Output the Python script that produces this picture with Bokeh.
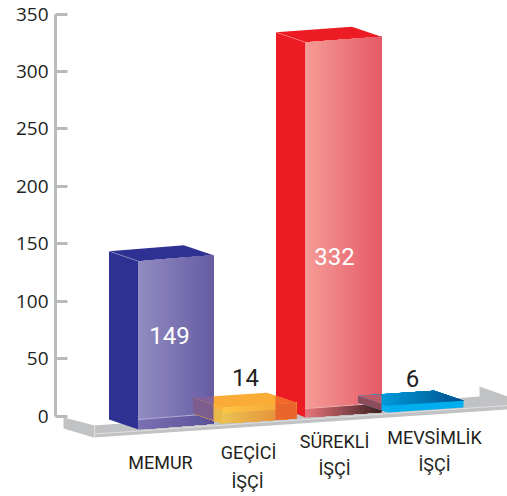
from bokeh.plotting import figure
from bokeh.models import Range1d, LinearAxis, FixedTicker
from bokeh.core.properties import value as V
from bokeh.embed import file_html
from bokeh.resources import INLINE

categories = [["MEMUR"], ["GEÇİCİ", "İŞÇİ"], ["SÜREKLİ", "İŞÇİ"], ["MEVSİMLİK", "İŞÇİ"]]
values = [149, 14, 332, 6]
y_ticks = [0, 50, 100, 150, 200, 250, 300, 350]

W, H = 507, 496
AX_X = 55
Y0 = 415.5
PX_PER_UNIT = 402 / 350
BAR_PX = 1.13
DX, DY = -29.5, -10


def U(py):
    return (Y0 - py) / PX_PER_UNIT


p = figure(width=W, height=H, output_backend="svg", toolbar_location=None,
           x_range=Range1d(AX_X, W),
           y_range=Range1d(U(H), U(0)),
           x_axis_location=None, y_axis_location=None,
           min_border_left=AX_X, min_border_right=0, min_border_top=0, min_border_bottom=0)
p.outline_line_color = None
p.xgrid.visible = False
p.ygrid.visible = False
p.background_fill_color = "white"

ax = LinearAxis(ticker=FixedTicker(ticks=y_ticks), bounds=(0, 350))
ax.axis_line_color = "#b9babc"
ax.axis_line_width = 3
ax.major_tick_line_color = "#b9babc"
ax.major_tick_line_width = 3
ax.major_tick_in = 12
ax.major_tick_out = 0
ax.minor_tick_line_color = None
ax.major_label_standoff = 7
ax.major_label_text_font = "Open Sans"
ax.major_label_text_font_size = "19px"
ax.major_label_text_color = "#231f20"
p.add_layout(ax, "left")


def poly(pts, color, alpha=1.0):
    p.patch([a for a, _ in pts], [U(b) for _, b in pts], fill_color=color, fill_alpha=alpha,
            line_color=None)


def edge(a, b, color="#ffffff", alpha=0.3):
    p.line([a[0], b[0]], [U(a[1]), U(b[1])], line_color=color, line_alpha=alpha, line_width=1)


def clip(pts, x_edge, keep_right):
    out = []
    n = len(pts)
    inside = (lambda q: q[0] >= x_edge) if keep_right else (lambda q: q[0] <= x_edge)
    for i in range(n):
        a, b = pts[i], pts[(i + 1) % n]
        if inside(a):
            out.append(a)
        if inside(a) != inside(b):
            t = (x_edge - a[0]) / (b[0] - a[0])
            out.append((x_edge, a[1] + t * (b[1] - a[1])))
    return out


def mix(c1, c2, t):
    a = [int(c1[i:i + 2], 16) for i in (1, 3, 5)]
    b = [int(c2[i:i + 2], 16) for i in (1, 3, 5)]
    return "#%02x%02x%02x" % tuple(round(a[i] + (b[i] - a[i]) * t) for i in range(3))


def grad(pts, c0, c1, n=36):
    # horizontal gradient painted back to front, each strip running to the shape's right end
    xs = [a for a, _ in pts]
    lo, hi = min(xs), max(xs)
    for i in range(n):
        cut = lo + (hi - lo) * i / n
        part = clip(pts, cut, True)
        if len(part) >= 3:
            poly(part, mix(c0, c1, (i + 0.5) / n))


def quad(x0, x1, a0, a1, b0, b1):
    return [(x0, a0), (x1, a1), (x1, b1), (x0, b0)]


# floor and its folded ends
FLOOR = "#c1c2c4"
poly([(63, 417), (94, 425), (479, 396), (479, 386), (507, 396), (507, 409), (93, 437), (63, 428)], FLOOR)
edge((94, 425), (94, 437), "#e2e2e3", 0.9)
edge((94, 433.5), (507, 405), "#e2e2e3", 0.9)

geo = {"x": [138, 222, 305, 387], "w": [75, 74, 76, 76], "base": [429, 423, 417, 412], "slope": [-6, -5, -5.5, -5]}


def corners(i):
    x, w, b, s = geo["x"][i], geo["w"][i], geo["base"][i], geo["slope"][i]
    top = b - values[i] * BAR_PX
    return x, x + w, top, top + s, b, b + s


def top_face(x0, x1, t0, t1):
    return [(x0 + DX, t0 + DY), (x1 + DX, t1 + DY), (x1, t1), (x0, t0)]


def left_face(x0, t0, b0, drop=0):
    return [(x0 + DX, t0 + DY), (x0, t0), (x0, b0), (x0 + DX, b0 + DY - drop)]


# MEMUR
x0, x1, t0, t1, b0, b1 = corners(0)
mem_right = x1
poly(left_face(x0, t0, b0), "#2e3192")
poly(top_face(x0, x1, t0, t1), "#2e3192")
grad(quad(x0, x1, t0, t1, b0 - 10, b1 - 10), "#938cc2", "#655ca3")
grad(quad(x0, x1, b0 - 10, b1 - 10, b0, b1), "#7a70b2", "#5b5199")
edge((x0, b0 - 10), (x1, b1 - 10), "#b3aed4", 1)
edge((x0 + DX, t0 + DY), (x0, t0), "#ffffff", 0.25)
edge((x1 + DX, t1 + DY), (x1 + 0.5, t1), "#ffffff", 0.2)

# SÜREKLİ
x0, x1, t0, t1, b0, b1 = corners(2)
poly(left_face(x0, t0, b0, 2), "#ed1c24")
poly(top_face(x0, x1, t0, t1), "#ed1c24")
grad(quad(x0, x1, t0, t1, b0 - 9, b1 - 9), "#f59c96", "#e55a68")
grad(quad(x0, x1, b0 - 9, b1 - 9, b0, b1), "#e9757c", "#3a1f1f")
edge((x0, b0 - 9), (x1, b1 - 9), "#f3b3b0", 1)
edge((x0 + DX, t0 + DY), (x0, t0), "#ffffff", 0.25)
red_left = x0 + DX - 0.5
red_right = x1

# GEÇİCİ
x0, x1, t0, t1, b0, b1 = corners(1)
left = left_face(x0, t0, b0)
grad(left, "#f5ac3a", "#f5b33f")
grad(clip(quad(x0 + DX, x0, b0 + DY - 14, b0 - 12, b0 + DY, b0), mem_right, True), "#e8b84a", "#e9bc4e")
top = top_face(x0, x1, t0, t1)
poly(clip(top, mem_right, True), "#fbac37")
poly(clip(left, mem_right, False), "#7c5d8d")
poly(clip(top, mem_right, False), "#80619a")
grad(quad(x0, x1, t0, t1, b0 - 10, b1 - 10), "#fdc443", "#f5a13a")
grad(quad(x0, x1, b0 - 10, b1 - 10, b0, b1), "#eac252", "#e58334")
poly(clip(top, red_left, True), "#f2672b")
poly(clip(quad(x0, x1, t0, t1, b0, b1), red_left, True), "#e8642a")

# MEVSİMLİK
x0, x1, t0, t1, b0, b1 = corners(3)
left = left_face(x0, t0, b0)
top = top_face(x0, x1, t0, t1)
poly(left, "#00aeef")
grad(top, "#00b0f0", "#00508c")
poly(clip(left, red_right, False), "#8e4c5a")
poly(clip(top, red_right, False), "#bf5a68")
poly(quad(x0, x1, t0, t1, b0, b1), "#00aeef")

# texts
FONT = "Roboto"
val_pos = [(169, 335, "white"), (245, 377, "#231f20"), (334, 256, "white"), (412, 378, "#231f20")]
for v, (x, y, c) in zip(values, val_pos):
    p.text([x], [U(y)], text=[str(v)], text_font=V(FONT), text_font_size="24px", text_color=c,
           text_align="center", text_baseline="middle")

label_pos = [[(160, 462)], [(248, 452), (247, 481)], [(334, 441), (334, 468)], [(434, 437), (434, 464)]]
for lines, poss in zip(categories, label_pos):
    for t, (x, y) in zip(lines, poss):
        p.text([x], [U(y)], text=[t], text_font=V(FONT), text_font_size="18px", text_color="#231f20",
               text_align="center", text_baseline="middle")

open("out.html", "w").write(file_html(p, INLINE))
